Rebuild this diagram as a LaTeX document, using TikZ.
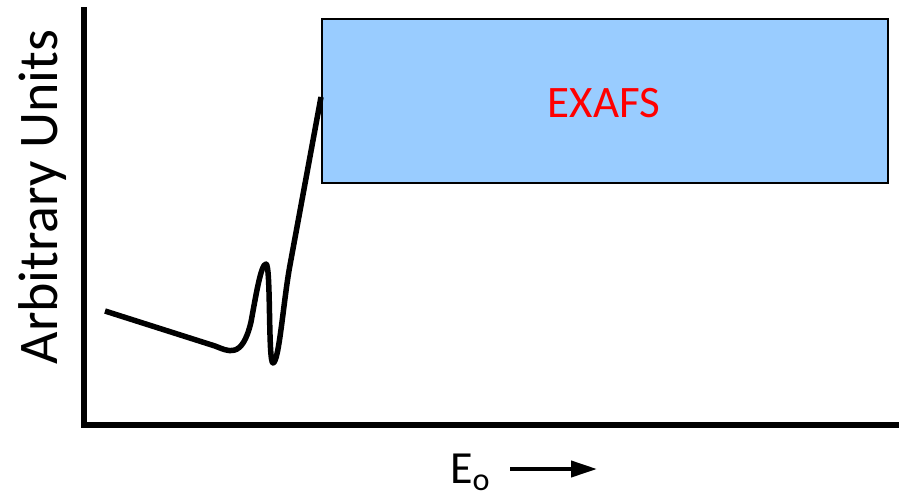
\documentclass[tikz,border=0pt]{standalone}
\usepackage{fontspec}
\setmainfont{Carlito}
\usetikzlibrary{arrows.meta}
\definecolor{boxblue}{RGB}{153,204,255}
\definecolor{labelred}{RGB}{255,0,0}
\tikzset{
  axisline/.style={line width=5.5pt, line cap=butt},
  curveline/.style={line width=5.5pt, line join=round},
  regionbox/.style={draw=black, line width=2pt, fill=boxblue},
}
\begin{document}
\begin{tikzpicture}[x=1pt,y=-1pt]
\useasboundingbox (0,0) rectangle (899,501);
% axes
\coordinate (ytop) at (84,7);
\coordinate (origin) at (84,425);
\coordinate (xend) at (899,425);
\draw[axisline] (ytop) -- (origin) -- (xend);
% EXAFS box
\node[regionbox, minimum width=566pt, minimum height=164pt, inner sep=0pt, anchor=north west] (exafs) at (321,18) {};
\node[text=labelred, font=\fontsize{45}{50}\selectfont] (exafslabel) at (604,103) {EXAFS};
% spectrum curve
\coordinate (c0) at (105,311);
\coordinate (c1) at (215,346);
\coordinate (c2) at (251,322);
\coordinate (c3) at (266,264);
\coordinate (c4) at (273,363);
\coordinate (c5) at (290,265);
\coordinate (c6) at (321,97);
\draw[curveline] (c0) -- (c1) .. controls (228,351) and (242,360) .. (c2)
  .. controls (256,295) and (261,264) .. (c3)
  .. controls (271,264) and (268,363) .. (c4)
  .. controls (279,363) and (283.5,300) .. (c5) -- (c6);
% axis labels
\node[rotate=90, font=\fontsize{56}{60}\selectfont, inner sep=0pt] (ylabel) at (43,197) {Arbitrary Units};
\node[font=\fontsize{46}{50}\selectfont, inner sep=0pt, anchor=base west] (xlabel) at (450,483) {E\textsubscript{o}};
\coordinate (arrstart) at (510,469);
\coordinate (arrend) at (597,469);
\draw[line width=4pt, -{Triangle[length=26pt, width=16pt]}] (arrstart) -- (arrend);
\end{tikzpicture}
\end{document}
